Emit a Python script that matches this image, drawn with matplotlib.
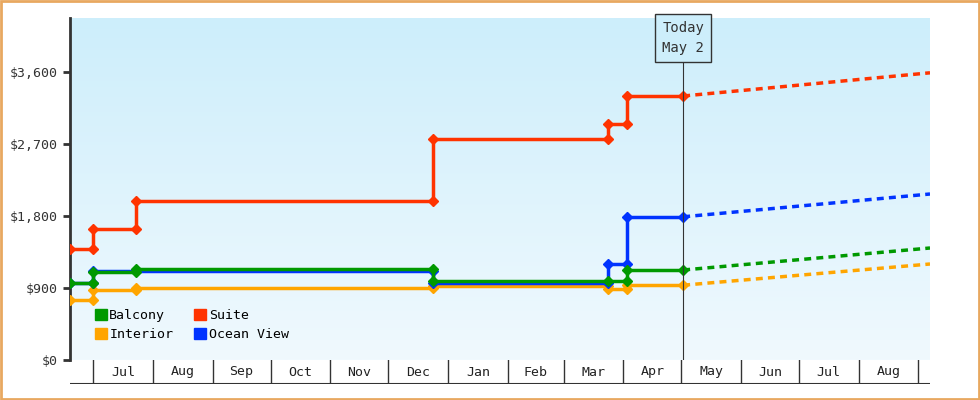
import matplotlib
matplotlib.use("Agg")
import matplotlib.pyplot as plt
import matplotlib.dates as mdates
import matplotlib.patches as mpatches
from matplotlib.colors import LinearSegmentedColormap
import numpy as np
from datetime import datetime as dt

plt.rcParams["font.family"] = "DejaVu Sans Mono"

today = dt(2024, 5, 2)
end = dt(2024, 9, 7)
start = dt(2023, 6, 19)

# step points: (date, price) - duplicate dates make the vertical steps
suite_d = ["2023-06-19", "2023-07-01", "2023-07-01", "2023-07-23", "2023-07-23", "2023-12-24",
           "2023-12-24", "2024-03-24", "2024-03-24", "2024-04-03", "2024-04-03", "2024-05-02"]
suite_v = [1390, 1390, 1640, 1640, 1990, 1990, 2760, 2760, 2950, 2950, 3300, 3300]
balcony_d = ["2023-06-19", "2023-07-01", "2023-07-01", "2023-07-23", "2023-07-23", "2023-12-24",
             "2023-12-24", "2024-03-24", "2024-04-03", "2024-04-03", "2024-05-02"]
balcony_v = [960, 960, 1100, 1100, 1135, 1135, 985, 985, 985, 1125, 1125]
ocean_d = ["2023-06-19", "2023-07-01", "2023-07-01", "2023-07-23", "2023-12-24",
           "2023-12-24", "2024-03-24", "2024-03-24", "2024-04-03", "2024-04-03", "2024-05-02"]
ocean_v = [960, 960, 1112, 1112, 1112, 965, 965, 1200, 1200, 1790, 1790]
interior_d = ["2023-06-19", "2023-07-01", "2023-07-01", "2023-07-23", "2023-07-23", "2023-12-24",
              "2023-12-24", "2024-03-24", "2024-03-24", "2024-04-03", "2024-04-03", "2024-05-02"]
interior_v = [750, 750, 875, 875, 900, 900, 925, 925, 890, 890, 935, 935]
# projected price at end of axis
proj_end = {"Suite": 3590, "Balcony": 1400, "Ocean View": 2075, "Interior": 1200}

series = [
    ("Interior", interior_d, interior_v, "#ffa500"),
    ("Ocean View", ocean_d, ocean_v, "#0033ff"),
    ("Balcony", balcony_d, balcony_v, "#009900"),
    ("Suite", suite_d, suite_v, "#ff3300"),
]
colors = {n: c for n, _, _, c in series}

fig = plt.figure(figsize=(9.8, 4), dpi=100)
fig.patch.set_facecolor("white")
fig.patches.append(plt.Rectangle((0.001, 0.002), 0.998, 0.996, transform=fig.transFigure,
                                 fill=False, edgecolor="#e8a860", linewidth=2))

L, R = 70 / 980, 930 / 980
ax = fig.add_axes([L, 40 / 400, R - L, 342 / 400])
ax.set_xlim(start, end)
ax.set_ylim(0, 4275)

grad = np.linspace(0, 1, 256).reshape(-1, 1)
cmap = LinearSegmentedColormap.from_list("bg", ["#f0f9fe", "#cdeefb"])
ax.imshow(grad, aspect="auto", cmap=cmap, origin="lower",
          extent=[mdates.date2num(start), mdates.date2num(end), 0, 4275], zorder=0)

for name, d, v, c in series:
    dd = [dt.fromisoformat(x) for x in d]
    ax.plot(dd, v, color=c, lw=2.5, marker="D", ms=5, zorder=3)
    ax.plot([today, end], [v[-1], proj_end[name]], color=c, lw=2.5, ls=(0, (2, 1.5)), zorder=3)

ax.axvline(today, color="#333333", lw=0.8, zorder=4)
ax.annotate("Today\nMay 2", xy=(today, 4275), xytext=(0, -20), textcoords="offset pixels",
            ha="center", va="center", fontsize=10, color="#333333", zorder=5, linespacing=1.5,
            bbox=dict(boxstyle="square,pad=0.5", fc="#cdeefb", ec="#333333", lw=1))

ax.set_yticks([0, 900, 1800, 2700, 3600])
ax.set_yticklabels(["$0", "$900", "$1,800", "$2,700", "$3,600"], fontsize=9.5, color="#333333")
ax.tick_params(axis="y", length=5, width=2, color="#333333")
ax.set_xticks([])
for s in ["top", "right", "bottom"]:
    ax.spines[s].set_visible(False)
ax.spines["left"].set_linewidth(2)
ax.spines["left"].set_color("#333333")

# legend (column-major: Balcony/Interior, Suite/Ocean View)
order = ["Balcony", "Interior", "Suite", "Ocean View"]
hh = [mpatches.Patch(color=colors[n]) for n in order]
ax.legend(hh, order, ncol=2, loc="lower left", bbox_to_anchor=(0.015, 0.02),
          frameon=False, fontsize=9.5, handlelength=0.9, handleheight=0.9,
          handletextpad=0.2, columnspacing=1.6, labelspacing=0.5)

# month strip
sx = fig.add_axes([L, 16 / 400, R - L, 24 / 400], sharex=ax)
sx.set_ylim(0, 1)
sx.axis("off")
months = [dt(2023, m, 1) for m in range(7, 13)] + [dt(2024, m, 1) for m in range(1, 10)]
for m in months:
    sx.plot([m, m], [0, 1], color="#333333", lw=1)
sx.plot([start, end], [0, 0], color="#333333", lw=1.5)
for a, b in zip(months[:-1], months[1:]):
    mid = a + (b - a) / 2
    sx.text(mid, 0.5, a.strftime("%b"), ha="center", va="center", fontsize=9.5, color="#222222")

fig.savefig("out.png", dpi=100)
